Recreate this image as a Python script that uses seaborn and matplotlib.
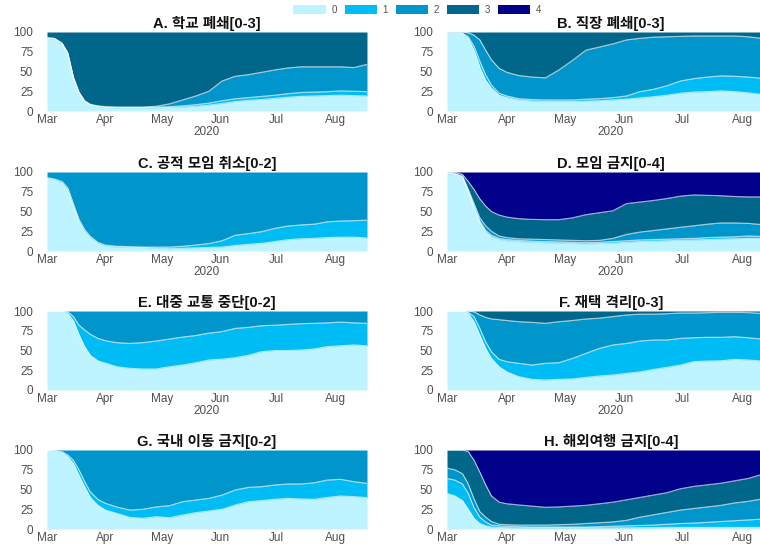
import numpy as np
import pandas as pd
import matplotlib
matplotlib.use("Agg")
import matplotlib.pyplot as plt
import matplotlib.dates as mdates
from matplotlib.patches import Patch
import seaborn as sns

# Observation dates
dates = ["2020-03-01", "2020-03-05", "2020-03-09", "2020-03-12", "2020-03-15",
         "2020-03-18", "2020-03-21", "2020-03-24", "2020-03-28", "2020-04-01",
         "2020-04-07", "2020-04-14", "2020-04-21", "2020-04-28", "2020-05-05",
         "2020-05-12", "2020-05-19", "2020-05-26", "2020-06-02", "2020-06-09",
         "2020-06-16", "2020-06-23", "2020-06-30", "2020-07-07", "2020-07-14",
         "2020-07-21", "2020-07-28", "2020-08-04", "2020-08-11", "2020-08-18"]

levels = ["0", "1", "2", "3", "4"]
level_colors = ["#BDF4FF", "#00BCF5", "#0096CC", "#00668A", "#00008B"]

# Cumulative share (%) of countries at or below level 0, 1, ...; the top level fills to 100
school_le0 = [92, 91, 85, 73, 42, 23, 12, 7.5, 5.5, 4.5, 4, 4, 4, 4, 4.5, 5, 6, 7.5, 9.5, 12,
              13.5, 14.5, 16, 17.5, 18.5, 19, 19.5, 20, 19.5, 19]
school_le1 = [92.5, 91.5, 85.5, 73.5, 42.5, 23.5, 12.5, 8, 6, 5, 4.5, 4.5, 4.5, 5, 5.5, 6.5, 8, 10,
              13, 15.5, 17, 18.5, 20, 22, 23.5, 24, 24.5, 25.5, 25, 24.5]
school_le2 = [93, 92, 86, 74, 43, 24, 13, 8.5, 6.5, 5.5, 5, 5, 5, 6, 9, 14, 19, 25, 38, 44,
              46, 49, 52, 54.5, 56, 56, 56, 56, 55, 59]

work_le0 = [98.5, 98.5, 98, 92, 77, 56, 39, 29, 20, 17, 14, 12.7, 12, 12, 12, 12.5, 13, 14, 15, 16.5,
            18, 20, 22.5, 24, 24.5, 25.5, 24.5, 23, 21, 20]
work_le1 = [98.7, 98.7, 98.3, 94, 82, 63, 46, 33, 22.5, 19, 15.7, 14.5, 14, 14, 14, 15, 15.7, 17, 19,
            24.5, 27.5, 32, 38, 41, 43, 44.5, 44, 43, 41.5, 39]
work_le2 = [100, 100, 100, 99, 96, 90, 77, 65, 54, 49, 45, 43, 42, 52, 64, 77, 81, 85, 90, 92,
            93.5, 94, 94.5, 95, 95, 95, 95, 94, 92, 91]

events_le0 = [92, 90, 86, 77, 56, 37, 24.5, 16.5, 9.5, 6, 5, 4.5, 4.5, 3.5, 3, 3.5, 4, 4.5, 5, 7,
              8.5, 9.7, 12, 14.3, 15.5, 16, 17, 17.5, 17.5, 16.5]
events_le1 = [93, 91, 88, 80, 60, 40, 27, 18.5, 11, 7.5, 6, 5.5, 5, 5, 5, 6, 7.5, 9.5, 13, 20,
              22, 24.5, 28.7, 31.6, 33, 34, 37, 38, 38.4, 39]

gather_le0 = [98, 97, 93, 75, 55, 36, 24, 18, 14.5, 13, 12, 11, 10.5, 10, 9.5, 9, 9.5, 10, 11, 12,
              12.5, 13, 13.5, 14, 14.5, 15, 15.5, 16, 16, 16]
gather_le1 = [98.5, 97.5, 94, 76.5, 57, 38, 26, 20, 16, 14.5, 13.5, 12.5, 12, 11.5, 11, 10.5, 11, 12,
              13, 14, 14.5, 15, 15.5, 16, 17, 17.5, 18, 19, 18.5, 18.5]
gather_le2 = [98.8, 98, 95, 78, 60, 42, 32, 25, 19, 17, 15.5, 15, 14.5, 14, 13.5, 13, 13.5, 16, 21,
              24, 26, 28, 30, 32, 34, 35.5, 35.5, 35, 33.5, 33]
gather_le3 = [100, 99.5, 97, 88, 78, 66, 57, 50, 45.5, 43, 41, 40, 39.7, 39.7, 42, 46, 48.5, 51, 60,
              62, 64, 66.5, 69.5, 71, 70.5, 70, 69, 68.5, 68.5, 68]

transit_le0 = [100, 100, 100, 97, 88, 70, 55, 44, 37, 34, 29.5, 27.4, 26.6, 26.6, 29.5, 31.6, 34.6,
               38, 39, 41, 44, 48.5, 50, 50, 50.6, 52, 55, 56, 57, 56]
transit_le1 = [100, 100, 100, 99, 93, 82, 76, 70.5, 65.4, 62.4, 60, 59, 60, 62, 64.5, 67, 69, 72,
               74, 78, 79.3, 81.4, 82, 83, 84, 84.4, 85, 86, 85, 84.4]

home_le0 = [100, 100, 100, 97, 86.5, 69.6, 52.7, 40, 29.5, 23, 17, 13.5, 12.7, 13.5, 14, 16, 17.7,
            19, 21, 23, 26, 28.7, 31.6, 35.9, 36.7, 37, 38.8, 38, 36.7, 36]
home_le1 = [100, 100, 100, 98.3, 93, 78, 61, 48.5, 38.8, 35.9, 33.8, 31.6, 33.8, 34.6, 40, 46.4,
            52.7, 57, 59, 62, 63.3, 63.3, 65.4, 66.2, 66.7, 66.7, 67.5, 66.2, 64.5, 64]
home_le2 = [100, 100, 100, 100, 99, 95, 92, 90, 89, 88, 86.5, 85.7, 84.4, 86.5, 88, 89.9, 91, 93,
            95, 96, 96, 96.6, 97.5, 97.5, 97.9, 98.3, 98.3, 98, 97, 97]

internal_le0 = [100, 98.7, 96.6, 91.6, 83, 68, 53.6, 40, 30, 24, 19.8, 14.8, 13.5, 15.6, 14.3, 17.7,
                20.7, 22.8, 25, 30.4, 34.6, 36, 37.6, 38.8, 38, 37.6, 40, 41.8, 41, 39.7]
internal_le1 = [100, 99, 97.9, 93.7, 87, 74.7, 60, 47, 37.6, 32.5, 28, 24, 25, 28, 29.5, 34.6, 36.7,
                38.8, 43, 49.4, 52.7, 53.6, 55.7, 57, 57, 58.6, 62, 62.9, 59.9, 57.8]

travel_le0 = [45, 42, 36, 25, 13.5, 7, 4, 2.5, 2, 1.7, 1.5, 1.5, 1.5, 1.5, 1.5, 1.5, 1.5, 1.5, 1.5,
              1.7, 1.7, 2, 2, 2, 2, 2, 2, 2, 2, 2]
travel_le1 = [64, 62, 57, 45, 27, 15, 9, 5, 4, 3.5, 3, 2.5, 2.5, 2.5, 2.5, 2.5, 3, 3.5, 4, 4.5,
              5, 6, 7, 7.5, 8.5, 9.5, 10.5, 11.5, 12.5, 13]
travel_le2 = [77, 75, 70, 57, 38, 22, 15, 9.5, 6, 5.5, 5, 5, 5, 5.5, 6, 7, 8, 9, 11, 15,
              18, 21, 24, 26, 28, 30, 33, 35, 38, 40]
travel_le3 = [100, 100, 100, 98, 87, 72, 56, 42, 34, 32, 30.5, 29, 27.5, 28, 29, 30, 32, 34, 37, 40,
              43, 46, 51, 54, 56, 58, 61, 64, 69, 72]

panels = [
    ("A. 학교 폐쇄[0-3]", [school_le0, school_le1, school_le2]),
    ("B. 직장 폐쇄[0-3]", [work_le0, work_le1, work_le2]),
    ("C. 공적 모임 취소[0-2]", [events_le0, events_le1]),
    ("D. 모임 금지[0-4]", [gather_le0, gather_le1, gather_le2, gather_le3]),
    ("E. 대중 교통 중단[0-2]", [transit_le0, transit_le1]),
    ("F. 재택 격리[0-3]", [home_le0, home_le1, home_le2]),
    ("G. 국내 이동 금지[0-2]", [internal_le0, internal_le1]),
    ("H. 해외여행 금지[0-4]", [travel_le0, travel_le1, travel_le2, travel_le3]),
]

sns.set_theme(style="white")
plt.rcParams["font.family"] = ["Liberation Sans", "Noto Sans CJK KR", "DejaVu Sans"]

W, H = 760, 545
fig = plt.figure(figsize=(W / 100, H / 100), dpi=100)

x = pd.to_datetime(dates)
col_left = [47, 447]
col_width = [320, 328]
row_top = [32, 172, 311, 450]
ax_h = 79
tick_grey = "#505050"

for i, (title, bounds) in enumerate(panels):
    r, c = divmod(i, 2)
    ax = fig.add_axes([col_left[c] / W, 1 - (row_top[r] + ax_h) / H,
                       col_width[c] / W, ax_h / H])
    edges = [np.zeros(len(x))] + [np.asarray(b, float) for b in bounds] + [np.full(len(x), 100.0)]
    for k in range(len(edges) - 1):
        ax.fill_between(x, edges[k], edges[k + 1], color=level_colors[k], lw=0)
    for b in bounds:
        sns.lineplot(x=x, y=b, ax=ax, color="white", lw=0.8, alpha=0.65, legend=False)
    ax.set_xlim(pd.Timestamp("2020-03-01"), pd.Timestamp("2020-08-18"))
    ax.set_ylim(0, 100)
    ax.set_yticks([0, 25, 50, 75, 100])
    ax.xaxis.set_major_locator(mdates.MonthLocator())
    ax.xaxis.set_major_formatter(mdates.DateFormatter("%b"))
    ax.tick_params(axis="both", length=0, labelsize=8.5, colors=tick_grey)
    ax.tick_params(axis="y", pad=10)
    ax.tick_params(axis="x", pad=2.5)
    # the year caption of the bottom row falls below the figure edge
    ax.set_xlabel("2020" if r < 3 else "", fontsize=8.5, color=tick_grey, labelpad=0)
    ax.set_ylabel("")
    for s in ax.spines.values():
        s.set_visible(False)
    ax.set_title(title, fontsize=10.5, fontweight="bold", color="#111111", pad=3)

handles = [Patch(facecolor=col, edgecolor="none", label=lab)
           for lab, col in zip(levels, level_colors)]
fig.legend(handles=handles, loc="center", bbox_to_anchor=(0.549, 0.982), ncol=5,
           frameon=False, fontsize=7, handlelength=3.3, handleheight=1.0,
           handletextpad=0.6, columnspacing=0.8, labelcolor=tick_grey,
           borderaxespad=0, borderpad=0)

fig.savefig("out.png", dpi=100)
